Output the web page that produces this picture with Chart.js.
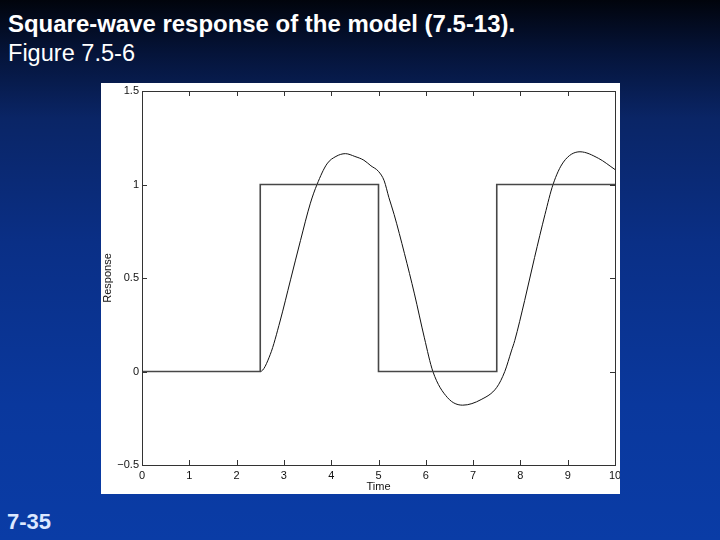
<!DOCTYPE html>
<html>
<head>
<meta charset="utf-8">
<script src="https://cdn.jsdelivr.net/npm/chart.js@4/dist/chart.umd.min.js"></script>
<style>
  html, body { margin: 0; padding: 0; }
  body {
    width: 720px; height: 540px; overflow: hidden; position: relative;
    background: linear-gradient(180deg, #01040c 0%, #05143a 10%, #0a2566 22%, #0a2f86 45%, #0a389d 75%, #0a3ca6 100%);
    font-family: "Liberation Sans", Arial, sans-serif;
  }
  .txt { position: absolute; color: #fff; white-space: nowrap; }
  #title { left: 8px; top: 10px; font-size: 24px; font-weight: bold; transform-origin: left top; }
  #fig { left: 8px; top: 40px; font-size: 23px; transform-origin: left top; }
  #page { left: 7px; top: 509px; font-size: 22px; font-weight: bold; color: #dce8ff; }
  #panel { position: absolute; left: 101px; top: 83px; width: 519px; height: 411px; background: #fff; }
</style>
</head>
<body>
<div class="txt" id="title">Square-wave response of the model (7.5-13).</div>
<div class="txt" id="fig">Figure 7.5-6</div>
<div class="txt" id="page">7-35</div>
<div id="panel"><canvas id="chart" width="519" height="411"></canvas></div>
<script>
// square-wave input
const squareT = [0, 2.5, 2.5, 5, 5, 7.5, 7.5, 10];
const squareV = [0, 0, 1, 1, 0, 0, 1, 1];

// model response
const respT = [0, 1, 2, 2.5, 2.71, 2.92, 3.14, 3.35, 3.56, 3.7, 3.91, 4.1, 4.3, 4.5, 4.69, 4.84, 5.0,
  5.12, 5.22, 5.33, 5.55, 5.76, 5.97, 6.15, 6.46, 6.78, 7.17, 7.5, 7.67, 7.81, 7.88, 8.09, 8.3,
  8.52, 8.69, 8.91, 9.26, 9.65, 10];
const respV = [0, 0, 0, 0, 0.09, 0.27, 0.49, 0.7, 0.9, 1.0, 1.11, 1.15, 1.165, 1.15, 1.13, 1.1, 1.07,
  1.02, 0.93, 0.84, 0.63, 0.415, 0.18, 0.0, -0.14, -0.18, -0.15, -0.085, 0.0, 0.11, 0.165, 0.38, 0.61,
  0.84, 1.0, 1.12, 1.175, 1.14, 1.08];

const xTicks = [0, 1, 2, 3, 4, 5, 6, 7, 8, 9, 10];
const yTicks = [-0.5, 0, 0.5, 1, 1.5];

// squeeze the slide text to the width it has on the slide
const fitWidth = (id, w) => {
  const el = document.getElementById(id);
  el.style.transform = 'scaleX(' + (w / el.offsetWidth) + ')';
};
fitWidth('title', 507);
fitWidth('fig', 127);

const toXY = (xs, ys) => xs.map((x, i) => ({ x: x, y: ys[i] }));

// matlab-style box with inward ticks
const boxPlugin = {
  id: 'box',
  afterDraw(chart) {
    const { ctx, chartArea: a, scales } = chart;
    ctx.save();
    ctx.strokeStyle = '#333';
    ctx.lineWidth = 1;
    ctx.strokeRect(a.left + 0.5, a.top + 0.5, a.right - a.left, a.bottom - a.top);
    ctx.beginPath();
    xTicks.forEach(v => {
      const px = Math.round(scales.x.getPixelForValue(v)) + 0.5;
      ctx.moveTo(px, a.bottom); ctx.lineTo(px, a.bottom - 5);
      ctx.moveTo(px, a.top); ctx.lineTo(px, a.top + 5);
    });
    yTicks.forEach(v => {
      const py = Math.round(scales.y.getPixelForValue(v)) + 0.5;
      ctx.moveTo(a.left, py); ctx.lineTo(a.left + 5, py);
      ctx.moveTo(a.right, py); ctx.lineTo(a.right - 5, py);
    });
    ctx.stroke();
    ctx.restore();
  }
};

Chart.defaults.font.family = '"Liberation Sans", Arial, sans-serif';
Chart.defaults.color = '#111';

new Chart(document.getElementById('chart'), {
  type: 'scatter',
  data: {
    datasets: [
      {
        data: toXY(squareT, squareV),
        showLine: true,
        borderColor: '#474747',
        borderWidth: 1.6,
        pointRadius: 0
      },
      {
        data: toXY(respT, respV),
        showLine: true,
        borderColor: '#111',
        borderWidth: 1,
        pointRadius: 0,
        cubicInterpolationMode: 'monotone'
      }
    ]
  },
  options: {
    responsive: false,
    animation: false,
    layout: { padding: { top: 8, right: 5, left: 0, bottom: 0 } },
    plugins: { legend: { display: false }, tooltip: { enabled: false } },
    scales: {
      x: {
        type: 'linear', min: 0, max: 10,
        afterBuildTicks: s => { s.ticks = xTicks.map(v => ({ value: v })); },
        afterFit: s => { s.height = 29; s.paddingLeft = 0; s.paddingRight = 0; },
        grid: { display: false, drawTicks: false },
        border: { display: false },
        ticks: { font: { size: 11 }, padding: 4, maxRotation: 0, color: '#111' },
        title: { display: true, text: 'Time', font: { size: 11 }, padding: { top: 1, bottom: 0 }, color: '#111' }
      },
      y: {
        type: 'linear', min: -0.5, max: 1.5,
        afterBuildTicks: s => { s.ticks = yTicks.map(v => ({ value: v })); },
        afterFit: s => { s.width = 41; s.paddingTop = 0; s.paddingBottom = 0; },
        grid: { display: false, drawTicks: false },
        border: { display: false },
        ticks: {
          font: { size: 11 }, padding: 3, color: '#111',
          callback: v => (v < 0 ? '\u2212' + Math.abs(v) : String(v))
        },
        title: { display: true, text: 'Response', font: { size: 11 }, padding: { top: 0, bottom: 0 }, color: '#111' }
      }
    }
  },
  plugins: [boxPlugin]
});
</script>
</body>
</html>
